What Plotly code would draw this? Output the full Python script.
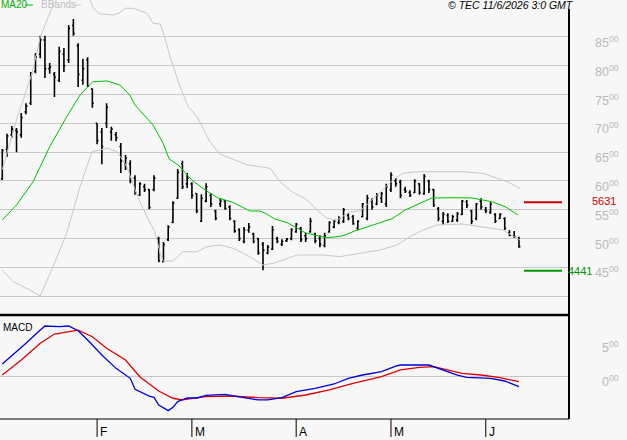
import plotly.graph_objects as go

# ---------------- data ----------------
highs = [6555,6820,6955,6920,7180,7350,7890,8220,8520,8520,
         8050,7890,8330,8310,8710,8810,8390,8120,8150,7600,
         7000,6920,7350,6940,6850,6660,6450,6360,6100,5980,
         5950,5860,6100,5030,4940,5230,5650,6210,6350,6140,
         5980,5790,5770,5960,5790,5500,5700,5670,5580,5320,
         5180,5200,5270,5100,5010,4940,4890,5220,5030,4990,
         5010,5180,5270,5200,5100,5360,5100,5060,5100,5300,
         5320,5390,5530,5440,5410,5320,5620,5760,5700,5790,
         5810,5950,6150,6050,6020,5900,5840,6030,5960,6120,
         6020,5860,5550,5460,5440,5410,5460,5670,5670,5500,
         5620,5700,5550,5630,5440,5440,5370,5150,5130,5030]
lows = [6017,6420,6750,6500,6750,7160,7320,7870,8130,7790,
        7860,7460,7720,7890,8050,8520,7630,7670,7630,7270,
        6640,6290,6920,6700,6690,6140,6190,5960,5760,5740,
        5810,5510,5820,4590,4590,4960,5270,5690,5860,5880,
        5690,5440,5290,5630,5550,5320,5550,5500,5320,5100,
        4960,4920,5100,4920,4720,4450,4730,4800,4920,4870,
        4940,4970,5100,4940,4940,5100,4920,4850,4850,5100,
        5180,5250,5270,5320,5240,5150,5370,5320,5500,5580,
        5620,5550,5810,5900,5700,5790,5720,5790,5760,5760,
        5790,5550,5300,5240,5270,5290,5290,5410,5530,5250,
        5320,5500,5440,5430,5270,5340,5150,5040,5010,4840]
opens = [6040,6550,6800,6880,6800,7200,7350,7900,8200,8450,
         7950,7850,7750,8200,8100,8700,8350,7750,8100,7600,
         7000,6850,7000,6850,6800,6600,6300,6300,6050,5760,
         5900,5850,5850,5000,4600,4980,5280,5700,6300,5950,
         5950,5780,5300,5650,5750,5480,5600,5650,5550,5300,
         5150,4950,5150,5080,5000,4900,4750,4820,5000,4900,
         4960,5000,5120,5180,5050,5120,5080,5000,4880,5120,
         5200,5280,5300,5400,5380,5180,5380,5350,5650,5600,
         5700,5600,5850,6000,5980,5850,5800,5800,5950,5780,
         6000,5850,5520,5300,5400,5300,5320,5420,5640,5480,
         5350,5650,5500,5450,5420,5350,5350,5100,5050,5000]
closes = [6530,6780,6900,6850,7100,7300,7850,8150,8450,7950,
          7980,7800,8250,8000,8650,8560,7850,7950,7650,7350,
          6700,6600,7280,6900,6750,6350,6400,6000,5800,5950,
          5850,5540,6050,4620,4900,5200,5620,6150,5900,6050,
          5750,5480,5700,5900,5600,5350,5650,5520,5350,5130,
          5000,5150,5200,4950,4750,4800,4850,5150,4950,4950,
          4990,5150,5250,4980,5000,5300,4960,4900,5050,5280,
          5300,5350,5500,5350,5260,5300,5600,5700,5550,5750,
          5780,5900,6100,5950,5750,5820,5750,6000,5800,6080,
          5850,5580,5350,5420,5300,5380,5430,5650,5580,5300,
          5600,5550,5480,5600,5300,5420,5180,5060,5030,4860]
bar_idx = list(range(len(closes)))

ma20_idx = [0,3,6.5,10,13.6,16.4,19.1,22.1,24.8,26.9,28,31.8,33.9,35.2,37.1,40,42.8,45.5,
            48.5,50.6,52.3,54.4,55.4,57.5,60.3,63.9,66.6,68.7,71.7,74.4,77.2,80.1,82.2,
            85,87.7,90.6,94.9,99.1,103.3,106.1,108.8]
ma20_val = [5323,5583,5988,6595,7116,7493,7724,7736,7666,7493,7319,6972,6660,6382,6278,6017,
            5844,5705,5635,5549,5479,5479,5444,5340,5270,5102,5045,5016,5045,5132,5207,5293,
            5345,5496,5600,5705,5710,5705,5640,5554,5410]

bb_up_idx = [0,3,6.3,8,10.7,11.5,15,18.5,19.2,20.6,23.4,24.8,25.9,27.6,30.5,31.8,33.3,34,
             35.4,37.5,39.2,41.1,43.8,45.9,49.1,51.8,54.4,56.5,58.6,61.1,64.3,66.4,68.5,
             70.6,73.4,75.5,77.6,80.3,82.4,84.5,87.5,97.2,101.4,104.4,106.5,109.2]
bb_up_val = [6200,7059,7875,8500,9055,9150,9350,9150,9000,8900,8882,8921,8998,8998,8911,
             8737,8725,8570,8158,7637,7290,7116,6682,6469,6364,6278,6248,6220,5988,5815,
             5670,5496,5352,5323,5467,5479,5640,5844,6017,6133,6161,6161,6133,6047,5988,5873]

bb_lo_idx = [0,2.3,5.8,8,10.7,13.6,16.4,18.9,22.1,24.2,26.3,28.4,30.5,32.2,33.3,33.9,36,
             38.1,41.1,43.2,45.9,48.7,51.6,55,57.1,62.2,67.7,71.2,75.5,79.7,83.3,86,88.8,
             91.7,97.2,101.4,105.6,109.2]
bb_lo_val = [4455,4252,4108,4003,4512,5097,5901,6509,6568,6509,6248,5757,5380,5120,4745,
             4611,4611,4772,4772,4860,4889,4831,4715,4542,4570,4715,4715,4686,4745,4802,
             4889,5033,5149,5236,5253,5207,5149,4976]

macd_idx = [0,3,5,8,9,12,14,16,18,21,24,27,28,31,32,33,35,36,37,39,41,43,47,50,54,56,59,
            62,66,70,73,76,80,83,84,90,92,96,98,103,106,109]
macd_val = [181,362,485,680,740,730,740,670,534,313,117,-30,-191,-290,-309,-422,-505,-456,
            -373,-319,-319,-280,-265,-304,-348,-348,-314,-226,-176,-113,-30,19,68,151,166,
            166,117,19,-15,-30,-69,-153]
signal_idx = [0,4,8,11,16,19,22,26,29,33,36,38,43,48,54,59,64,69,74,80,84,88,91,94,97,
              101,105,109]
signal_val = [19,240,485,622,680,582,412,240,-6,-216,-323,-348,-300,-290,-314,-323,-275,
              -201,-103,-6,93,132,141,93,44,19,-21,-79]

month_labels = ["F", "M", "A", "M", "J"]
month_start_idx = [20, 40, 62, 82, 102]

price_ticks = [4500, 5000, 5500, 6000, 6500, 7000, 7500, 8000, 8500]
price_grid = [4000, 4500, 5000, 5500, 6000, 6500, 7000, 7500, 8000, 8500]
macd_ticks = [0, 500]
resistance = 5631
support = 4441

# ---------------- layout constants ----------------
W, H = 627, 440
PLOT_R = 569
TOP_BOTTOM = 314
BOT_TOP, BOT_BOTTOM = 316, 419
STEP = 4.74
X0 = 2.3
xr = [-X0 / STEP, (PLOT_R - X0) / STEP]

def px(x):
    return x / W

def py(y):
    return 1 - y / H

FONT = "Liberation Sans, Arial, sans-serif"
GRID = "#c8c8c8"
BG = "#f7f7f7"
LABEL_GREY = "#bababa"

fig = go.Figure()

fig.add_trace(go.Scatter(x=bb_up_idx, y=bb_up_val, mode="lines",
                         line=dict(color="#c8c8c8", width=1), hoverinfo="skip"))
fig.add_trace(go.Scatter(x=bb_lo_idx, y=bb_lo_val, mode="lines",
                         line=dict(color="#c8c8c8", width=1), hoverinfo="skip"))
fig.add_trace(go.Scatter(x=ma20_idx, y=ma20_val, mode="lines",
                         line=dict(color="#00c000", width=1), hoverinfo="skip"))
fig.add_trace(go.Ohlc(x=bar_idx, open=opens, high=highs, low=lows, close=closes,
                      increasing=dict(line=dict(color="black", width=1.6)),
                      decreasing=dict(line=dict(color="black", width=1.6)),
                      tickwidth=0.3, hoverinfo="skip"))

fig.add_trace(go.Scatter(x=signal_idx, y=signal_val, mode="lines", xaxis="x2", yaxis="y2",
                         line=dict(color="#dd0000", width=1.3), hoverinfo="skip"))
fig.add_trace(go.Scatter(x=macd_idx, y=macd_val, mode="lines", xaxis="x2", yaxis="y2",
                         line=dict(color="#0000dd", width=1.3), hoverinfo="skip"))

shapes = []
# frame lines
shapes.append(dict(type="line", xref="paper", yref="paper", x0=px(PLOT_R), x1=px(PLOT_R),
                   y0=py(9), y1=py(BOT_BOTTOM), line=dict(color="black", width=2)))
shapes.append(dict(type="line", xref="paper", yref="paper", x0=0, x1=px(PLOT_R),
                   y0=py(315), y1=py(315), line=dict(color="black", width=2.5)))
shapes.append(dict(type="line", xref="paper", yref="paper", x0=0, x1=px(PLOT_R),
                   y0=py(BOT_BOTTOM), y1=py(BOT_BOTTOM), line=dict(color="black", width=1)))
# month ticks
for m in month_start_idx:
    shapes.append(dict(type="line", xref="x2", yref="paper", x0=m, x1=m,
                       y0=py(BOT_BOTTOM), y1=py(437), line=dict(color="black", width=1)))
# legend samples
shapes.append(dict(type="line", xref="paper", yref="paper", x0=px(25), x1=px(33),
                   y0=py(5), y1=py(5), line=dict(color="#00c000", width=1)))
shapes.append(dict(type="line", xref="paper", yref="paper", x0=px(73), x1=px(81),
                   y0=py(5), y1=py(5), line=dict(color="#c8c8c8", width=1)))
# support / resistance markers
shapes.append(dict(type="line", xref="paper", yref="y", x0=px(524), x1=px(562),
                   y0=resistance, y1=resistance, line=dict(color="#cc0000", width=2)))
shapes.append(dict(type="line", xref="paper", yref="y", x0=px(524), x1=px(562),
                   y0=support, y1=support, line=dict(color="#009900", width=2)))

ann = []
def label_text(v):
    s = str(v)
    return s[:-2] + "<sup>" + s[-2:] + "</sup>" if len(s) > 2 else s

for v in price_ticks:
    ann.append(dict(xref="paper", yref="y", x=px(620), y=v, xanchor="right", yanchor="middle",
                    yshift=-5, showarrow=False, text=label_text(v), borderpad=0,
                    font=dict(family=FONT, size=12.5, color=LABEL_GREY)))
for v in macd_ticks:
    t = "0<sup>00</sup>" if v == 0 else label_text(v)
    ann.append(dict(xref="paper", yref="y2", x=px(620), y=v, xanchor="right", yanchor="middle",
                    yshift=-5, showarrow=False, text=t, borderpad=0,
                    font=dict(family=FONT, size=12.5, color=LABEL_GREY)))
ann.append(dict(xref="paper", yref="y", x=px(617), y=resistance, xanchor="right",
                yanchor="middle", yshift=1, showarrow=False, text=str(resistance), borderpad=0,
                font=dict(family=FONT, size=11, color="#cc0000")))
ann.append(dict(xref="paper", yref="y", x=px(593), y=support, xanchor="right",
                yanchor="middle", yshift=0, showarrow=False, text=str(support), borderpad=0,
                font=dict(family=FONT, size=11, color="#009900")))
for lbl, m in zip(month_labels, month_start_idx):
    ann.append(dict(xref="x2", yref="paper", x=m, y=py(432), xanchor="left", yanchor="middle",
                    xshift=1, showarrow=False, text=lbl,
                    font=dict(family=FONT, size=12, color="black")))
ann.append(dict(xref="paper", yref="paper", x=0, y=py(5), xanchor="left", yanchor="middle",
                showarrow=False, text="MA20", borderpad=0,
                font=dict(family=FONT, size=10, color="#00b000")))
ann.append(dict(xref="paper", yref="paper", x=px(40), y=py(5), xanchor="left",
                yanchor="middle", showarrow=False, text="BBands", borderpad=0,
                font=dict(family=FONT, size=10, color="#c0c0c0")))
ann.append(dict(xref="paper", yref="paper", x=px(575), y=py(5), xanchor="right",
                yanchor="middle", showarrow=False, text="<i>© TEC 11/6/2026 3:0 GMT</i>",
                borderpad=0, font=dict(family=FONT, size=10.5, color="black")))
ann.append(dict(xref="paper", yref="paper", x=px(2), y=py(327), xanchor="left",
                yanchor="middle", showarrow=False, text="MACD", borderpad=0,
                font=dict(family=FONT, size=10, color="black")))

fig.update_layout(
    width=W, height=H, margin=dict(l=0, r=0, t=0, b=0),
    paper_bgcolor=BG, plot_bgcolor=BG, showlegend=False,
    xaxis=dict(domain=[0, px(PLOT_R)], range=xr, visible=False,
               rangeslider=dict(visible=False), anchor="y"),
    yaxis=dict(domain=[py(TOP_BOTTOM), 1], range=[3691, 9142], tickvals=price_grid,
               showgrid=True, gridcolor=GRID, gridwidth=1, showticklabels=False,
               zeroline=False, showline=False, ticks="", anchor="x"),
    xaxis2=dict(domain=[0, px(PLOT_R)], range=xr, visible=False, anchor="y2"),
    yaxis2=dict(domain=[py(BOT_BOTTOM), py(BOT_TOP)], range=[-628, 887], tickvals=[0],
                showgrid=True, gridcolor=GRID, gridwidth=1, showticklabels=False,
                zeroline=False, showline=False, ticks="", anchor="x2"),
    shapes=shapes, annotations=ann,
)

fig.write_html("out.html")
